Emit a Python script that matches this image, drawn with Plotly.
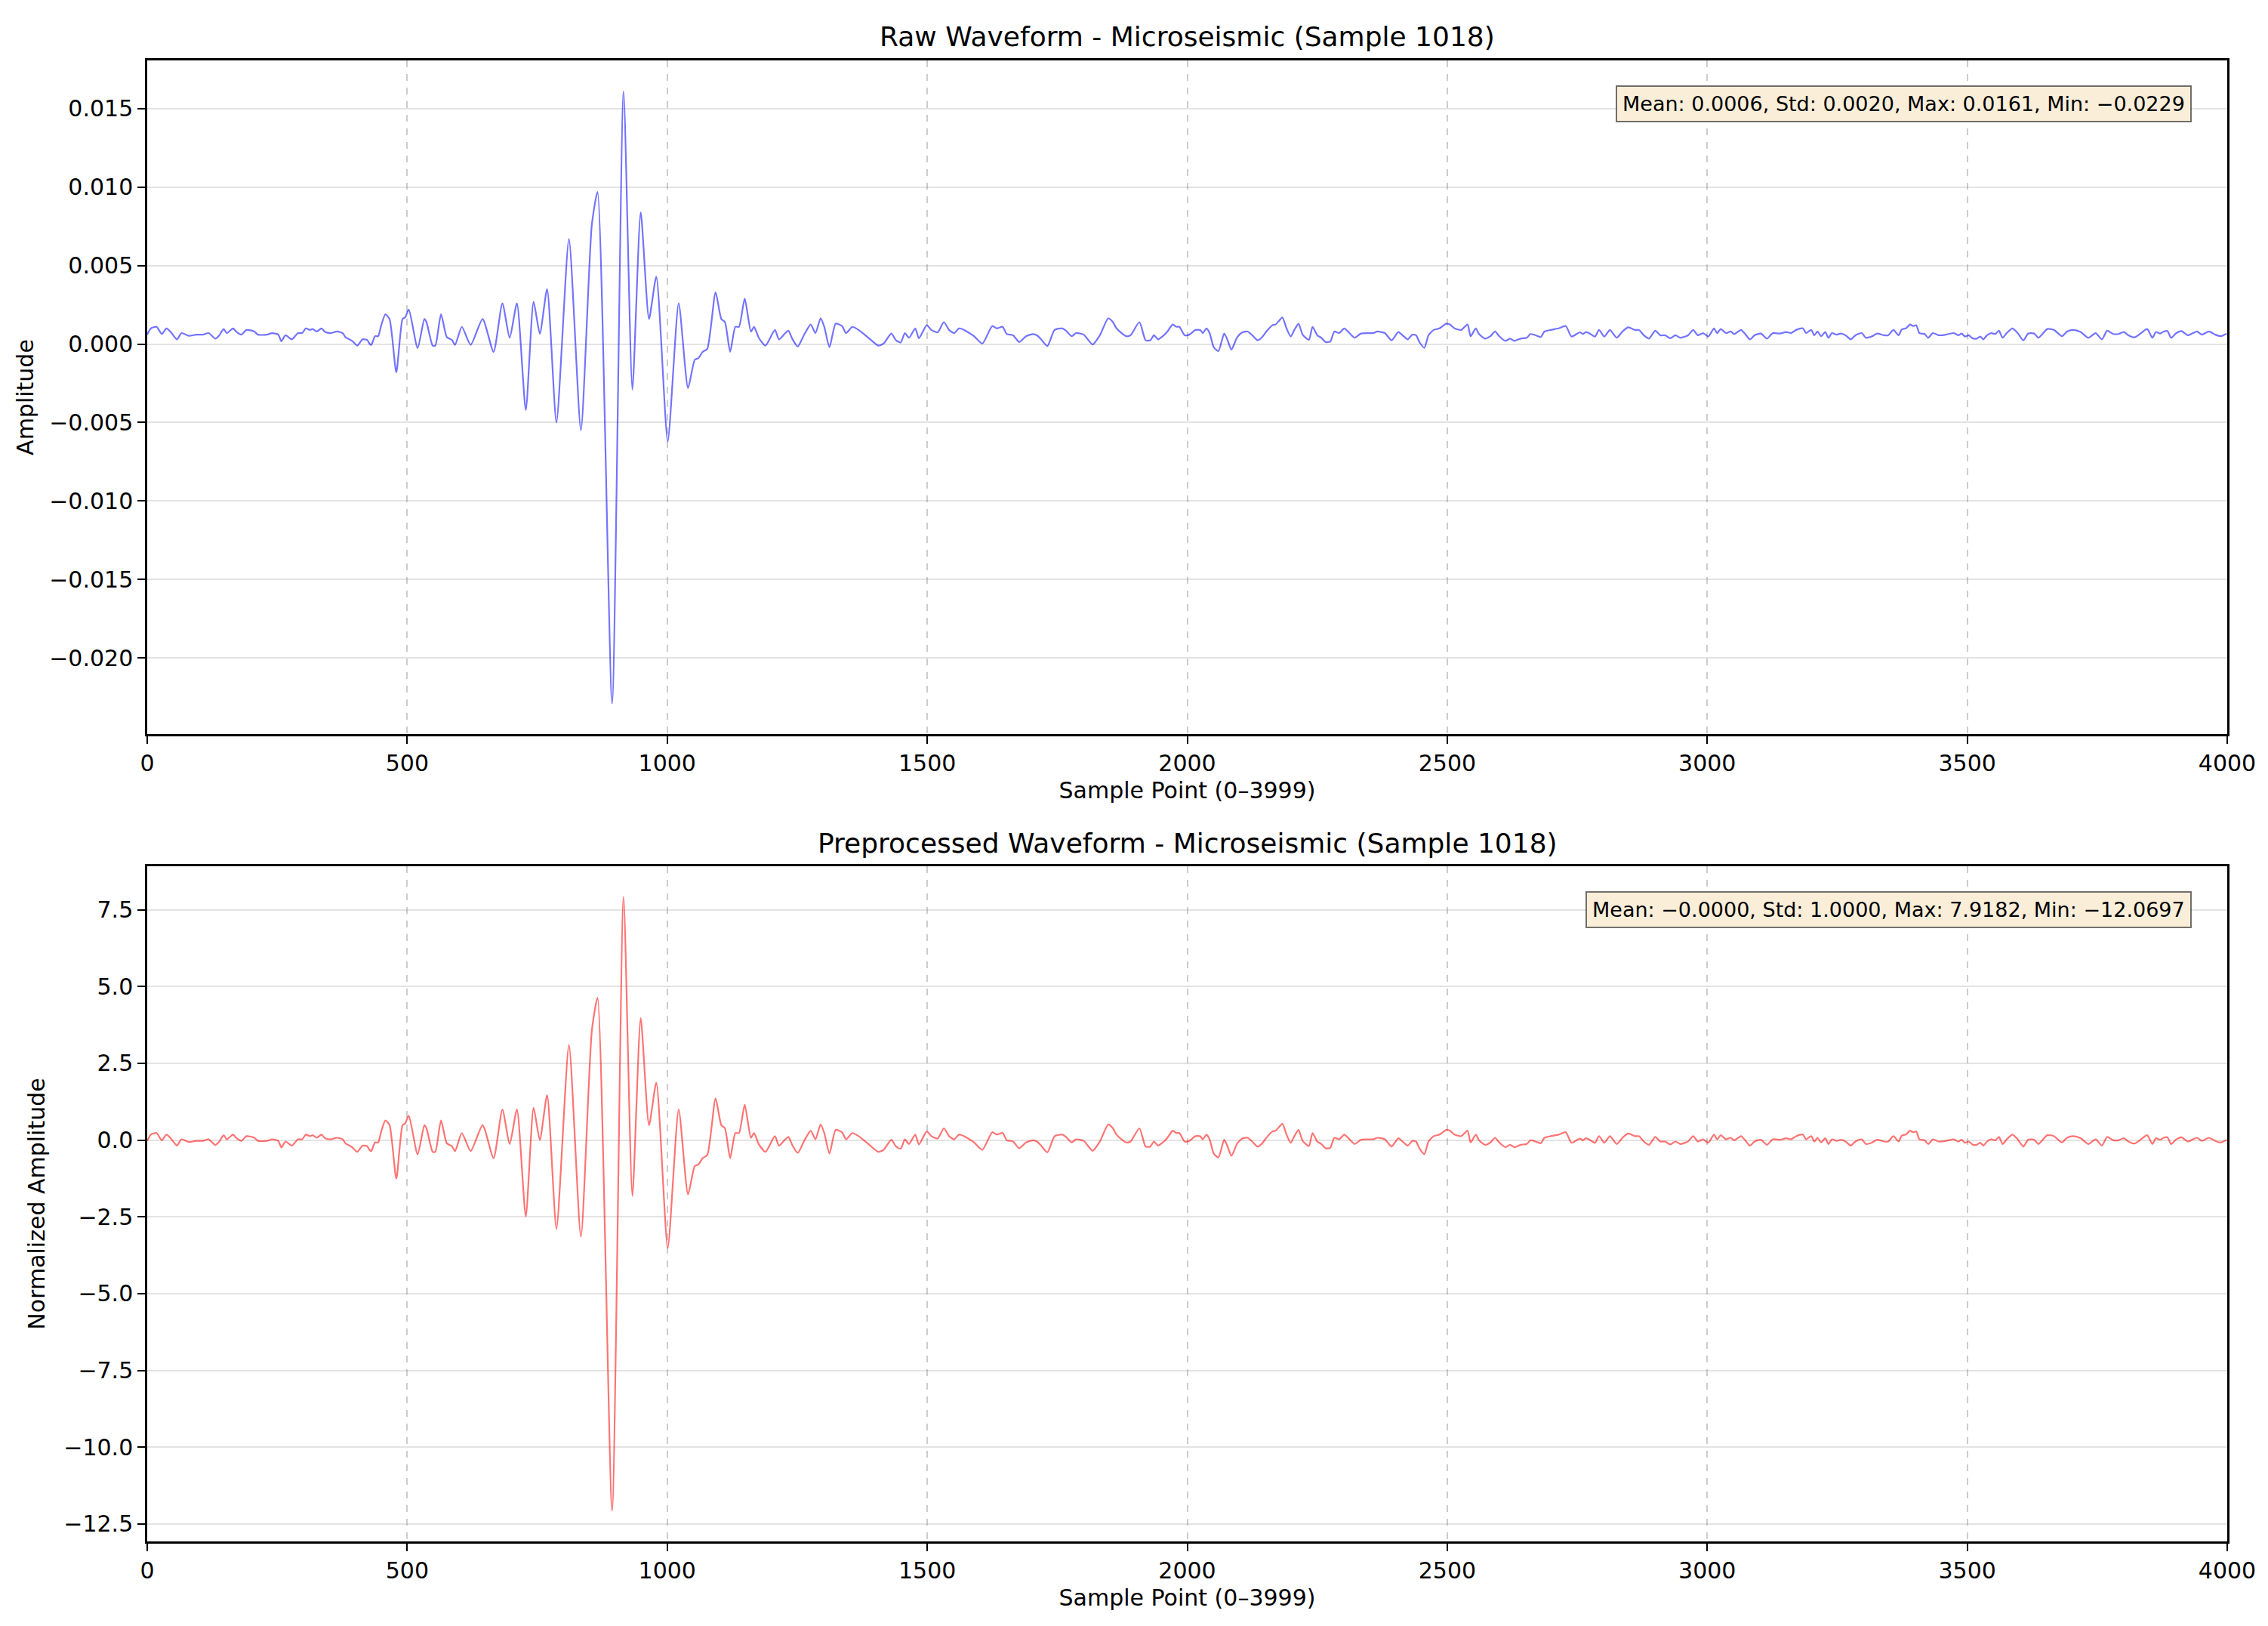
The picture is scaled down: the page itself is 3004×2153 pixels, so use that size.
import plotly.graph_objects as go

# ---- data (sample index, raw amplitude) ----
pre_x = [0, 7, 18, 28, 37, 46, 57, 66, 80, 94, 107, 118, 131, 138, 147, 153, 165, 172,
         181, 191, 206, 213, 230, 240, 252, 258, 266, 278, 290, 298, 305, 313, 318, 326,
         335, 342, 353, 365, 376, 381, 394, 404, 414, 423, 428]
pre_y = [0.0006, 0.0010, 0.0011, 0.00064, 0.0010, 0.00074, 0.0003, 0.0007, 0.00053, 0.0006,
         0.0006, 0.0007, 0.00034, 0.00053, 0.00096, 0.0007, 0.0010, 0.00077, 0.0006, 0.0009,
         0.0008, 0.0006, 0.0006, 0.0007, 0.0006, 0.00018, 0.00056, 0.0003, 0.0007, 0.0007,
         0.0010, 0.0009, 0.00096, 0.0008, 0.0010, 0.00077, 0.0007, 0.0008, 0.0007, 0.00045,
         0.0002, -0.0001, 0.0003, 0.00026, 0.0000]

burst_x = [431, 438, 444, 450, 458, 466, 479, 491, 496, 503, 520, 533, 537, 549, 554, 565,
           576, 586, 592, 605, 622, 645, 666, 683, 697, 711, 728, 743, 755, 769, 787, 811,
           834, 855, 866, 894, 916, 933, 949, 965, 979, 1001, 1022, 1040, 1053, 1060, 1068,
           1077, 1093, 1104, 1111, 1121, 1131, 1138, 1149, 1161, 1167, 1176, 1189, 1207, 1215]
burst_y = [-0.00005, 0.0005, 0.0005, 0.0012, 0.0019, 0.0016, -0.0018, 0.0016, 0.0017, 0.0022,
           -0.00026, 0.0016, 0.0014, -0.0001, -0.0001, 0.0019, 0.00045, 0.00026, -0.00005,
           0.0011, -0.00005, 0.0016, -0.0005, 0.0026, 0.0004, 0.0026, -0.0042, 0.0027, 0.00066,
           0.0035, -0.0050, 0.0067, -0.0055, 0.0076, 0.0097, -0.0229, 0.0161, -0.0029, 0.0084,
           0.0016, 0.0043, -0.0062, 0.0026, -0.0028, -0.0010, -0.0009, -0.0005, -0.0003, 0.0033,
           0.0016, 0.0014, -0.0005, 0.0011, 0.0011, 0.0029, 0.0008, 0.0011, 0.0004, -0.0001,
           0.0009, 0.0003]

coda_x = [1227, 1233, 1241, 1251, 1264, 1276, 1285, 1295, 1302, 1312, 1324, 1336, 1344, 1356,
          1368, 1387, 1406, 1416, 1431, 1440, 1449, 1457, 1465, 1477, 1484, 1499, 1508, 1520,
          1532, 1542, 1552, 1561, 1571, 1590, 1606, 1625, 1634, 1645, 1653, 1665, 1677, 1690,
          1704, 1711, 1719, 1731, 1745, 1760, 1767, 1778, 1786, 1801, 1818, 1832, 1848, 1857,
          1864, 1876, 1883, 1891, 1908, 1920, 1929, 1936, 1944]
coda_y = [0.0007, 0.00085, 0.0003, -0.00016, 0.00064, 0.00125, 0.0007, 0.00165, 0.0011, -0.0002,
          0.0013, 0.00115, 0.0007, 0.0011, 0.0009, 0.0004, -0.0001, 0.00003, 0.00067, 0.00024,
          0.0001, 0.0007, 0.0004, 0.0010, 0.00037, 0.0012, 0.0009, 0.00075, 0.0014, 0.0009,
          0.0007, 0.0010, 0.0009, 0.0005, 0.00003, 0.00115, 0.0010, 0.0011, 0.00064, 0.00056,
          0.00013, 0.0005, 0.00064, 0.00056, 0.0003, -0.00013, 0.0009, 0.0010, 0.00085, 0.0005,
          0.0007, 0.0006, -0.00003, 0.00056, 0.00164, 0.0014, 0.0010, 0.00064, 0.0005, 0.00056,
          0.0014, 0.00024, 0.00024, 0.00056, 0.0003]

mid_x = [1953, 1962, 1972, 1979, 1985, 1995, 2004, 2016, 2025, 2030, 2037, 2043, 2051, 2060,
         2071, 2077, 2085, 2096, 2106, 2116, 2125, 2135, 2143, 2153, 2164, 2170, 2177, 2183,
         2191, 2199, 2206, 2214, 2222, 2234, 2241, 2250, 2258, 2266, 2275, 2283, 2292, 2302,
         2312, 2322, 2334, 2346, 2358, 2366, 2380, 2393, 2406, 2414, 2424, 2433, 2440, 2447,
         2456, 2464, 2474, 2485, 2498, 2505, 2514, 2527, 2539, 2545, 2555, 2561, 2573, 2583,
         2592, 2600, 2612, 2621, 2629, 2641, 2653, 2660, 2670, 2680]
mid_y = [0.0005, 0.0008, 0.00125, 0.0011, 0.0011, 0.00056, 0.0006, 0.0009, 0.0009, 0.0007,
         0.0010, 0.0007, -0.0002, -0.00045, 0.00067, 0.0003, -0.00035, 0.00043, 0.00075, 0.0008,
         0.00056, 0.00024, 0.0004, 0.00083, 0.0012, 0.00125, 0.0015, 0.0017, 0.0010, 0.00048,
         0.0009, 0.0013, 0.0006, 0.00027, 0.0011, 0.00056, 0.0004, 0.00013, 0.00016, 0.0008,
         0.0007, 0.0010, 0.0007, 0.0004, 0.00067, 0.0007, 0.0007, 0.0008, 0.0007, 0.00024,
         0.00077, 0.00056, 0.0003, 0.0006, 0.00056, 0.0001, -0.00024, 0.00056, 0.0009, 0.0010,
         0.0013, 0.00125, 0.0010, 0.0009, 0.00125, 0.0005, 0.0010, 0.00064, 0.00035, 0.0005,
         0.0008, 0.0005, 0.0002, 0.00035, 0.0002, 0.00035, 0.0004, 0.00064, 0.00056, 0.00045]

late_x = [2687, 2699, 2714, 2728, 2739, 2755, 2761, 2767, 2774, 2784, 2792, 2802, 2813, 2826,
          2837, 2848, 2861, 2869, 2878, 2888, 2900, 2910, 2919, 2929, 2939, 2948, 2963, 2973,
          2982, 2992, 3002, 3013, 3019, 3026, 3036, 3045, 3052, 3065, 3073, 3082, 3091, 3103,
          3115, 3126, 3140, 3152, 3161, 3171, 3184, 3190, 3200, 3206, 3212, 3219, 3227, 3233,
          3240, 3249, 3257, 3266, 3276, 3285, 3297, 3305, 3316, 3327, 3340]
late_y = [0.0008, 0.0009, 0.0010, 0.00115, 0.00048, 0.00075, 0.00064, 0.00077, 0.00067, 0.00048,
          0.0009, 0.00048, 0.0009, 0.0004, 0.0008, 0.00107, 0.0009, 0.0009, 0.00056, 0.00035,
          0.00085, 0.00056, 0.00056, 0.00037, 0.00056, 0.0004, 0.00056, 0.0009, 0.00056, 0.0007,
          0.00048, 0.0010, 0.0007, 0.00096, 0.0007, 0.0008, 0.00064, 0.0009, 0.00064, 0.0003,
          0.00056, 0.00067, 0.00035, 0.0007, 0.00067, 0.00077, 0.0007, 0.0009, 0.0010, 0.0007,
          0.0009, 0.00056, 0.0008, 0.0005, 0.00077, 0.0004, 0.0007, 0.0006, 0.00067, 0.00056,
          0.0003, 0.00056, 0.0007, 0.0004, 0.00048, 0.00067, 0.00056]

end_x = [3348, 3358, 3368, 3374, 3382, 3390, 3396, 3402, 3408, 3418, 3425, 3434, 3445, 3459,
         3474, 3483, 3489, 3496, 3503, 3510, 3518, 3525, 3531, 3538, 3546, 3554, 3561, 3568,
         3576, 3587, 3597, 3608, 3617, 3629, 3637, 3654, 3667, 3682, 3692, 3704, 3718, 3733,
         3747, 3759, 3769, 3781, 3791, 3801, 3810, 3822, 3832, 3846, 3856, 3863, 3871, 3878,
         3885, 3892, 3902, 3912, 3924, 3934, 3942, 3951, 3965, 3977, 3987, 3999]
end_y = [0.00056, 0.0009, 0.00056, 0.00093, 0.0010, 0.00125, 0.00115, 0.0012, 0.0007, 0.00064,
         0.0004, 0.0007, 0.00056, 0.0006, 0.0007, 0.00056, 0.00067, 0.00048, 0.00056, 0.00037,
         0.00035, 0.00048, 0.0003, 0.00056, 0.0007, 0.00064, 0.00085, 0.0004, 0.0007, 0.0010,
         0.0007, 0.00024, 0.00067, 0.00067, 0.0004, 0.00096, 0.0009, 0.0005, 0.0008, 0.0009,
         0.00077, 0.0004, 0.0007, 0.0003, 0.00085, 0.00064, 0.00064, 0.00077, 0.00056, 0.00043,
         0.00064, 0.00096, 0.0004, 0.00077, 0.00067, 0.0008, 0.00083, 0.0004, 0.0007, 0.00083,
         0.00056, 0.0007, 0.0008, 0.0006, 0.0008, 0.0006, 0.0005, 0.00067]

# stats printed in the two boxes: mean, std, max, min
raw_stats = [0.0006, 0.0020, 0.0161, -0.0229]
norm_stats = [-0.0000, 1.0000, 7.9182, -12.0697]

x_ticks = [0, 500, 1000, 1500, 2000, 2500, 3000, 3500, 4000]

samples = pre_x + burst_x + coda_x + mid_x + late_x + end_x
raw = pre_y + burst_y + coda_y + mid_y + late_y + end_y

# z-score version: map raw min/max onto the normalized min/max shown in the box
scale = (norm_stats[2] - norm_stats[3]) / (raw_stats[2] - raw_stats[3])
norm = [norm_stats[3] + (v - raw_stats[3]) * scale for v in raw]

FONT = "DejaVu Sans"
# the page body adds an 8px margin, so the figure is a bit smaller and positions are shifted
OFF = 8
W, H = 3004 - 2 * OFF, 2153 - 2 * OFF


def px_x(p):
    return (p - OFF) / W


def px_y(p):
    return 1 - (p - OFF) / H


fig = go.Figure()
fig.add_trace(go.Scatter(x=samples, y=raw, mode="lines",
                         line=dict(color="rgba(0,0,255,0.55)", width=2.2, shape="spline", smoothing=0.6),
                         xaxis="x", yaxis="y", showlegend=False))
fig.add_trace(go.Scatter(x=samples, y=norm, mode="lines",
                         line=dict(color="rgba(255,0,0,0.55)", width=2.2, shape="spline", smoothing=0.6),
                         xaxis="x2", yaxis="y2", showlegend=False))

xdom = [px_x(195), px_x(2950)]
ydom1 = [px_y(972), px_y(80)]
ydom2 = [px_y(2041), px_y(1147)]

common_x = dict(range=[0, 4000], tickvals=x_ticks, ticks="outside", ticklen=10, tickwidth=2.4,
                tickcolor="black", showline=True, linecolor="black", linewidth=2.5, mirror=True,
                showgrid=True, gridcolor="rgba(128,128,128,0.4)", gridwidth=2, griddash="dash",
                zeroline=False, tickfont=dict(size=30, color="black", family=FONT),
                title=dict(text="Sample Point (0–3999)", font=dict(size=30, color="black", family=FONT),
                           standoff=10),
                automargin=False, domain=xdom)
common_y = dict(ticks="outside", ticklen=10, tickwidth=2.4, tickcolor="black", showline=True,
                linecolor="black", linewidth=2.5, mirror=True, showgrid=True,
                gridcolor="rgba(128,128,128,0.22)", gridwidth=2.4, zeroline=False,
                tickfont=dict(size=30, color="black", family=FONT), automargin=False)

fig.update_layout(
    width=W, height=H,
    margin=dict(l=0, r=0, t=0, b=0),
    paper_bgcolor="white", plot_bgcolor="white",
    xaxis=dict(common_x, anchor="y"),
    xaxis2=dict(common_x, anchor="y2"),
    yaxis=dict(common_y, domain=ydom1, anchor="x", range=[-0.02486, 0.01808],
               tickvals=[-0.020, -0.015, -0.010, -0.005, 0.0, 0.005, 0.010, 0.015], tickformat=".3f",
               title=dict(text="Amplitude", font=dict(size=30, color="black", family=FONT), standoff=12)),
    yaxis2=dict(common_y, domain=ydom2, anchor="x2", range=[-13.069, 8.918],
                tickvals=[-12.5, -10.0, -7.5, -5.0, -2.5, 0.0, 2.5, 5.0, 7.5], tickformat=".1f",
                title=dict(text="Normalized Amplitude", font=dict(size=30, color="black", family=FONT),
                           standoff=16)),
)

xmid = (xdom[0] + xdom[1]) / 2
fig.add_annotation(text="Raw Waveform - Microseismic (Sample 1018)", xref="paper", yref="paper",
                   x=xmid, y=px_y(48), xanchor="center", yanchor="middle", showarrow=False,
                   font=dict(size=36, color="black", family=FONT))
fig.add_annotation(text="Preprocessed Waveform - Microseismic (Sample 1018)", xref="paper", yref="paper",
                   x=xmid, y=px_y(1116), xanchor="center", yanchor="middle", showarrow=False,
                   font=dict(size=36, color="black", family=FONT))


def stat_text(s):
    vals = []
    for v in s:
        t = f"{v:.4f}"
        if t.startswith("-"):
            t = "−" + t[1:]
        vals.append(t)
    return f"Mean: {vals[0]}, Std: {vals[1]}, Max: {vals[2]}, Min: {vals[3]}"


for xr, yr, s in [("x domain", "y domain", raw_stats), ("x2 domain", "y2 domain", norm_stats)]:
    fig.add_annotation(text=stat_text(s), xref=xr, yref=yr, x=0.983, y=0.963,
                       xanchor="right", yanchor="top", showarrow=False,
                       font=dict(size=27, color="black", family=FONT),
                       bgcolor="rgb(250,238,217)", bordercolor="rgba(0,0,0,0.55)",
                       borderwidth=2, borderpad=7)

fig.write_html("out.html")
